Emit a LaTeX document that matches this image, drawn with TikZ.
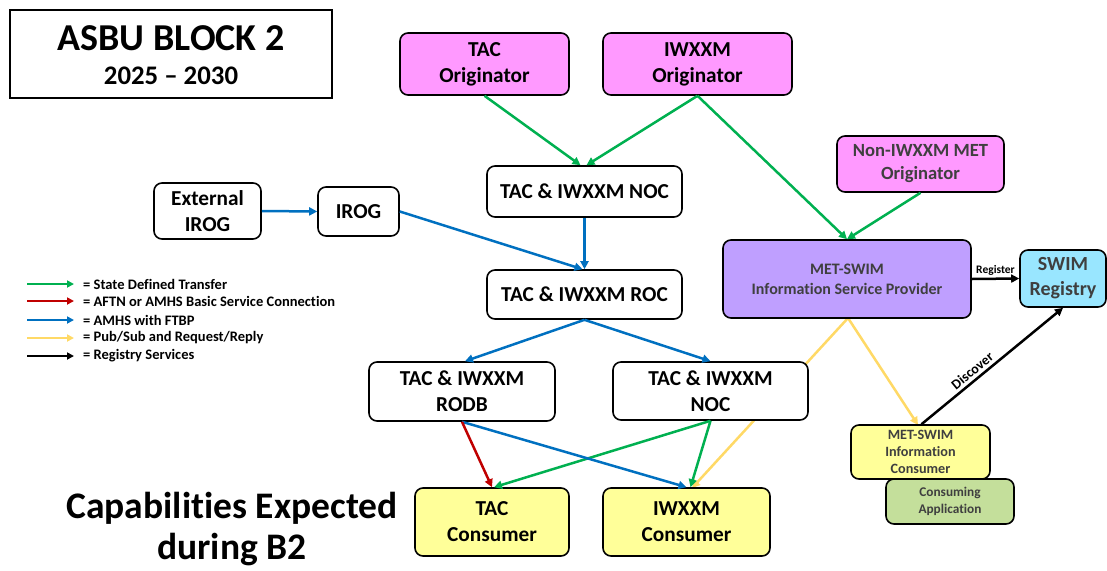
\documentclass[tikz,border=0pt]{standalone}
\usepackage{fontspec}
\setmainfont[Ligatures=NoCommon]{Carlito}
\usetikzlibrary{arrows.meta}
\definecolor{orig}{HTML}{FF99FF}
\definecolor{isp}{HTML}{BF9FFF}
\definecolor{reg}{HTML}{99E6FF}
\definecolor{cons}{HTML}{FFFF99}
\definecolor{capp}{HTML}{C4DF9B}
\definecolor{gtr}{HTML}{00B050}
\definecolor{rtr}{HTML}{C00000}
\definecolor{btr}{HTML}{0070C0}
\definecolor{ytr}{HTML}{FFD966}
\definecolor{dtext}{HTML}{3F3F3F}
\tikzset{
  box/.style={draw=black, line width=1.6pt, rounded corners=8pt, fill=white,
    align=center, inner sep=0pt, text=black,
    font=\fontsize{21.3}{26}\selectfont\bfseries},
  conn/.style={line width=2.5pt, -{Triangle[length=8pt,width=8pt]}},
  gconn/.style={conn, draw=gtr, fill=gtr},
  rconn/.style={conn, draw=rtr, fill=rtr},
  bconn/.style={conn, draw=btr, fill=btr},
  yconn/.style={conn, draw=ytr, fill=ytr},
  kconn/.style={conn, draw=black, fill=black},
  legtext/.style={anchor=west, inner sep=0pt, font=\fontsize{14.5}{16}\selectfont\bfseries},
}
\begin{document}
\begin{tikzpicture}[x=1pt, y=-1pt]
\useasboundingbox (0,0) rectangle (1107,570);

% title block
\node[draw=black, line width=1.4pt, minimum width=322pt, minimum height=88pt, inner sep=0pt] (title) at (171,54) {};
\node[inner sep=0pt, font=\fontsize{38}{40}\selectfont\bfseries] (ttl1) at (171,38) {ASBU BLOCK 2};
\node[inner sep=0pt, font=\fontsize{26.8}{30}\selectfont\bfseries] (ttl2) at (171,76) {2025 -- 2030};

\node[align=center, inner sep=0pt, font=\fontsize{37.5}{41}\selectfont\bfseries] (caps) at (232,529)
  {Capabilities Expected\\during B2};

% legend
\foreach \c/\t/\y/\n in {gtr/{= State Defined Transfer}/284/l1,
                          rtr/{= AFTN or AMHS Basic Service Connection}/301/l2,
                          btr/{= AMHS with FTBP}/320/l3,
                          ytr/{= Pub/Sub and Request/Reply}/338/l4,
                          black/{= Registry Services}/356/l5}{
  \coordinate (\n a) at (27,\y);
  \coordinate (\n b) at (74,\y);
  \draw[conn, line width=2.4pt, draw=\c, fill=\c, -{Triangle[length=7pt,width=7pt]}] (\n a) -- (\n b);
  \node[legtext] (\n t) at (83,\y) {\t};
}

% pub/sub lines drawn first so boxes sit above them
\coordinate (ispb) at (848,318);
\draw[yconn] (ispb) -- (692,488);
\draw[yconn] (ispb) -- (918,425);

% boxes
\node[box, fill=orig, minimum width=169pt, minimum height=62pt] (taco) at (484.5,64) {TAC\\Originator};
\node[box, fill=orig, minimum width=189pt, minimum height=62pt] (iwxo) at (697.5,64) {IWXXM\\Originator};
\node[box, fill=orig, minimum width=167pt, minimum height=56pt, text=dtext,
      font=\fontsize{18.6}{23}\selectfont\bfseries] (nonio) at (920.5,164) {Non-IWXXM MET\\Originator};
\node[box, minimum width=195pt, minimum height=51pt] (noc1) at (584.5,191.5) {TAC \& IWXXM NOC};
\node[box, minimum width=107pt, minimum height=56pt] (extirog) at (207.5,211) {External\\IROG};
\node[box, minimum width=81pt, minimum height=49pt] (irog) at (358.5,211.5) {IROG};
\node[box, minimum width=195pt, minimum height=49pt] (roc) at (584.5,294.5) {TAC \& IWXXM ROC};
\node[box, fill=isp, minimum width=248pt, minimum height=78pt, text=dtext,
      font=\fontsize{16}{20}\selectfont\bfseries] (isp) at (847,279) {MET-SWIM\\Information Service Provider};
\node[box, fill=reg, minimum width=86pt, minimum height=57pt, text=dtext,
      font=\fontsize{20}{25}\selectfont\bfseries] (swreg) at (1063,278.5) {SWIM\\Registry};
\node[box, minimum width=186pt, minimum height=59pt] (rodb) at (462,391.5) {TAC \& IWXXM\\RODB};
\node[box, minimum width=195pt, minimum height=58pt] (noc2) at (710.5,391) {TAC \& IWXXM\\NOC};
\node[box, fill=cons, minimum width=139pt, minimum height=54pt, text=dtext,
      font=\fontsize{14.2}{17}\selectfont\bfseries] (msic) at (920.5,452) {MET-SWIM\\Information\\Consumer};
\node[box, fill=capp, minimum width=128pt, minimum height=45pt, text=dtext,
      font=\fontsize{13.3}{17}\selectfont\bfseries] (capp) at (950,501.5) {Consuming\\Application};
\node[box, fill=cons, minimum width=154pt, minimum height=68pt] (tacc) at (492,522) {TAC\\Consumer};
\node[box, fill=cons, minimum width=167pt, minimum height=68pt] (iwxc) at (686.5,522) {IWXXM\\Consumer};

% state defined transfer
\draw[gconn] (taco.south) -- ([xshift=-4pt]noc1.north);
\draw[gconn] (iwxo.south) -- ([xshift=2pt]noc1.north);
\draw[gconn] (iwxo.south) -- (isp.north);
\draw[gconn] (nonio.south) -- (isp.north);
\draw[gconn] (noc2.south) -- ([xshift=2pt]tacc.north);
\draw[gconn] (noc2.south) -- ([xshift=4pt]iwxc.north);

% AMHS with FTBP
\draw[bconn] (extirog.east) -- (irog.west);
\draw[bconn] (irog.east) -- ([xshift=-2pt]roc.north);
\draw[bconn] (noc1.south) -- (roc.north);
\draw[bconn] (roc.south) -- ([xshift=3pt]rodb.north);
\draw[bconn] (roc.south) -- (noc2.north);
\draw[bconn] (rodb.south) -- (iwxc.north);

% AFTN / AMHS basic service
\draw[rconn] (rodb.south) -- (tacc.north);

% registry services
\draw[kconn] (isp.east) -- node[above=1pt, inner sep=1pt, font=\fontsize{11.5}{13}\selectfont\bfseries, text=black] {Register} (swreg.west);
\draw[kconn] ([xshift=1pt]msic.north) -- node[pos=0.4, sloped, above=2pt, inner sep=1pt, font=\fontsize{14}{16}\selectfont\bfseries] {Discover} (swreg.south);
\end{tikzpicture}
\end{document}
